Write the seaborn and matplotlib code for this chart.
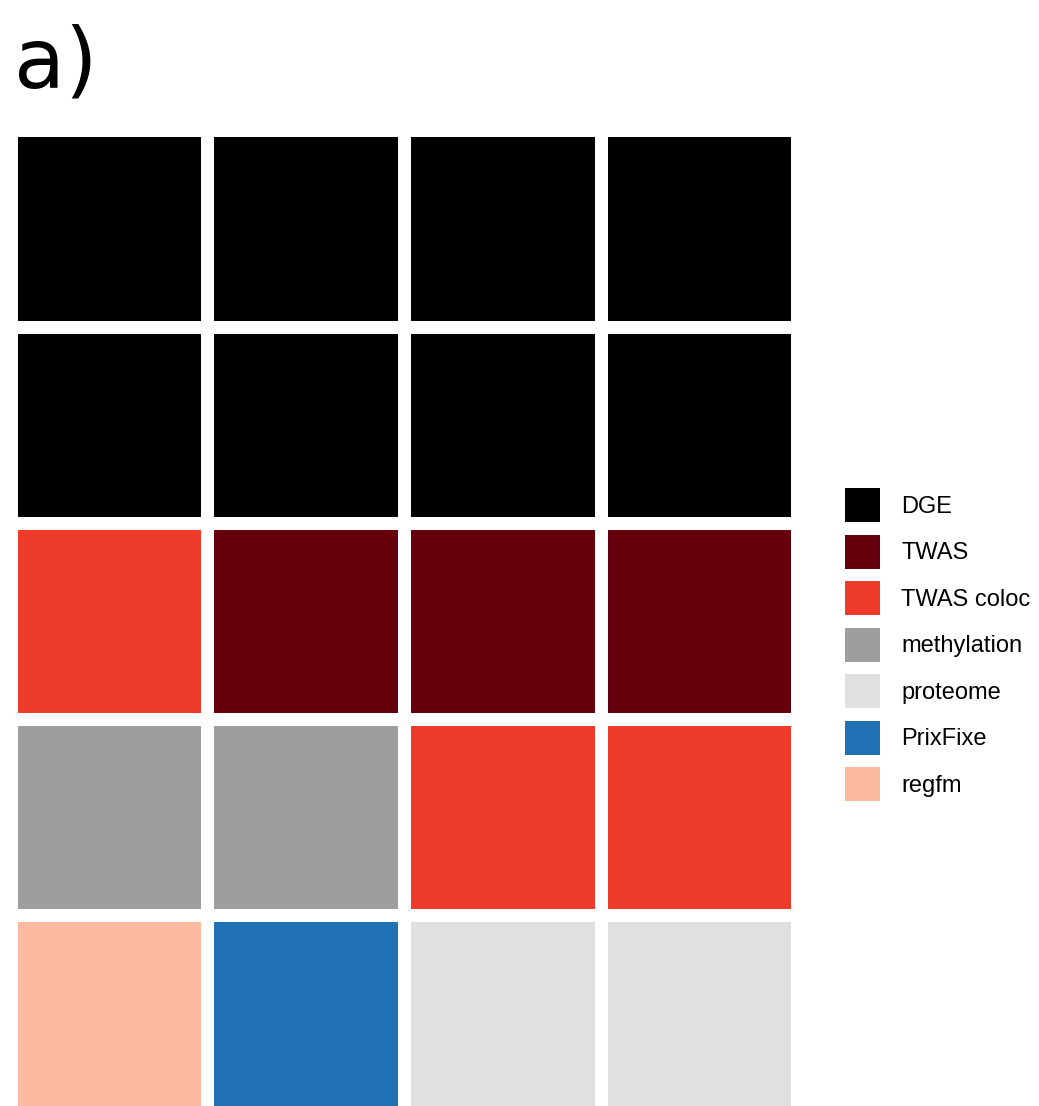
import numpy as np
import pandas as pd
import seaborn as sns
import matplotlib.pyplot as plt
from matplotlib.colors import ListedColormap
from matplotlib.patches import Patch

# Categories and their colours
categories = ['DGE', 'TWAS', 'TWAS coloc', 'methylation', 'proteome', 'PrixFixe', 'regfm']
colors = ['#000000', '#67000d', '#ef3b2c', '#9e9e9e', '#e0e0e0', '#2171b5', '#fcbba1']
counts = [8, 3, 3, 2, 2, 1, 1]

# Waffle cells, row by row (top to bottom)
grid_rows = [
    ['DGE', 'DGE', 'DGE', 'DGE'],
    ['DGE', 'DGE', 'DGE', 'DGE'],
    ['TWAS coloc', 'TWAS', 'TWAS', 'TWAS'],
    ['methylation', 'methylation', 'TWAS coloc', 'TWAS coloc'],
    ['regfm', 'PrixFixe', 'proteome', 'proteome'],
]

codes = pd.DataFrame([[categories.index(c) for c in row] for row in grid_rows])

W, H = 1039, 1106
fig = plt.figure(figsize=(W / 100, H / 100), dpi=100)
gap = 11.5
ax = fig.add_axes([(16.5 - gap / 2) / W, -gap / 2 / H,
                   (775 + gap) / W, (970 + gap) / H])
sns.heatmap(codes, ax=ax, cmap=ListedColormap(colors), vmin=-0.5, vmax=len(categories) - 0.5,
            cbar=False, linewidths=gap * 72 / 100, linecolor='white', square=False)
ax.set_xticks([])
ax.set_yticks([])
ax.set_xlabel('')
ax.set_ylabel('')
for s in ax.spines.values():
    s.set_visible(False)

# Panel label
fig.text(14 / W, 1 - 88 / H, 'a)', fontsize=60, va='baseline', ha='left',
         family='DejaVu Sans')

# Legend
fs = 17
fpx = fs * 100 / 72
box_h = 34
hh = (box_h / fpx - 0.245) / 0.65
handles = [Patch(facecolor=c, edgecolor='none') for c in colors]
fig.legend(handles, categories, loc='upper left', bbox_to_anchor=(845 / W, 1 - 488 / H),
           frameon=False, borderpad=0, borderaxespad=0,
           handlelength=35 / fpx, handleheight=hh,
           labelspacing=(46.5 - box_h) / fpx, handletextpad=(901 - 880) / fpx,
           prop={'family': 'Liberation Sans', 'size': fs})

fig.savefig('out.png', dpi=100)
